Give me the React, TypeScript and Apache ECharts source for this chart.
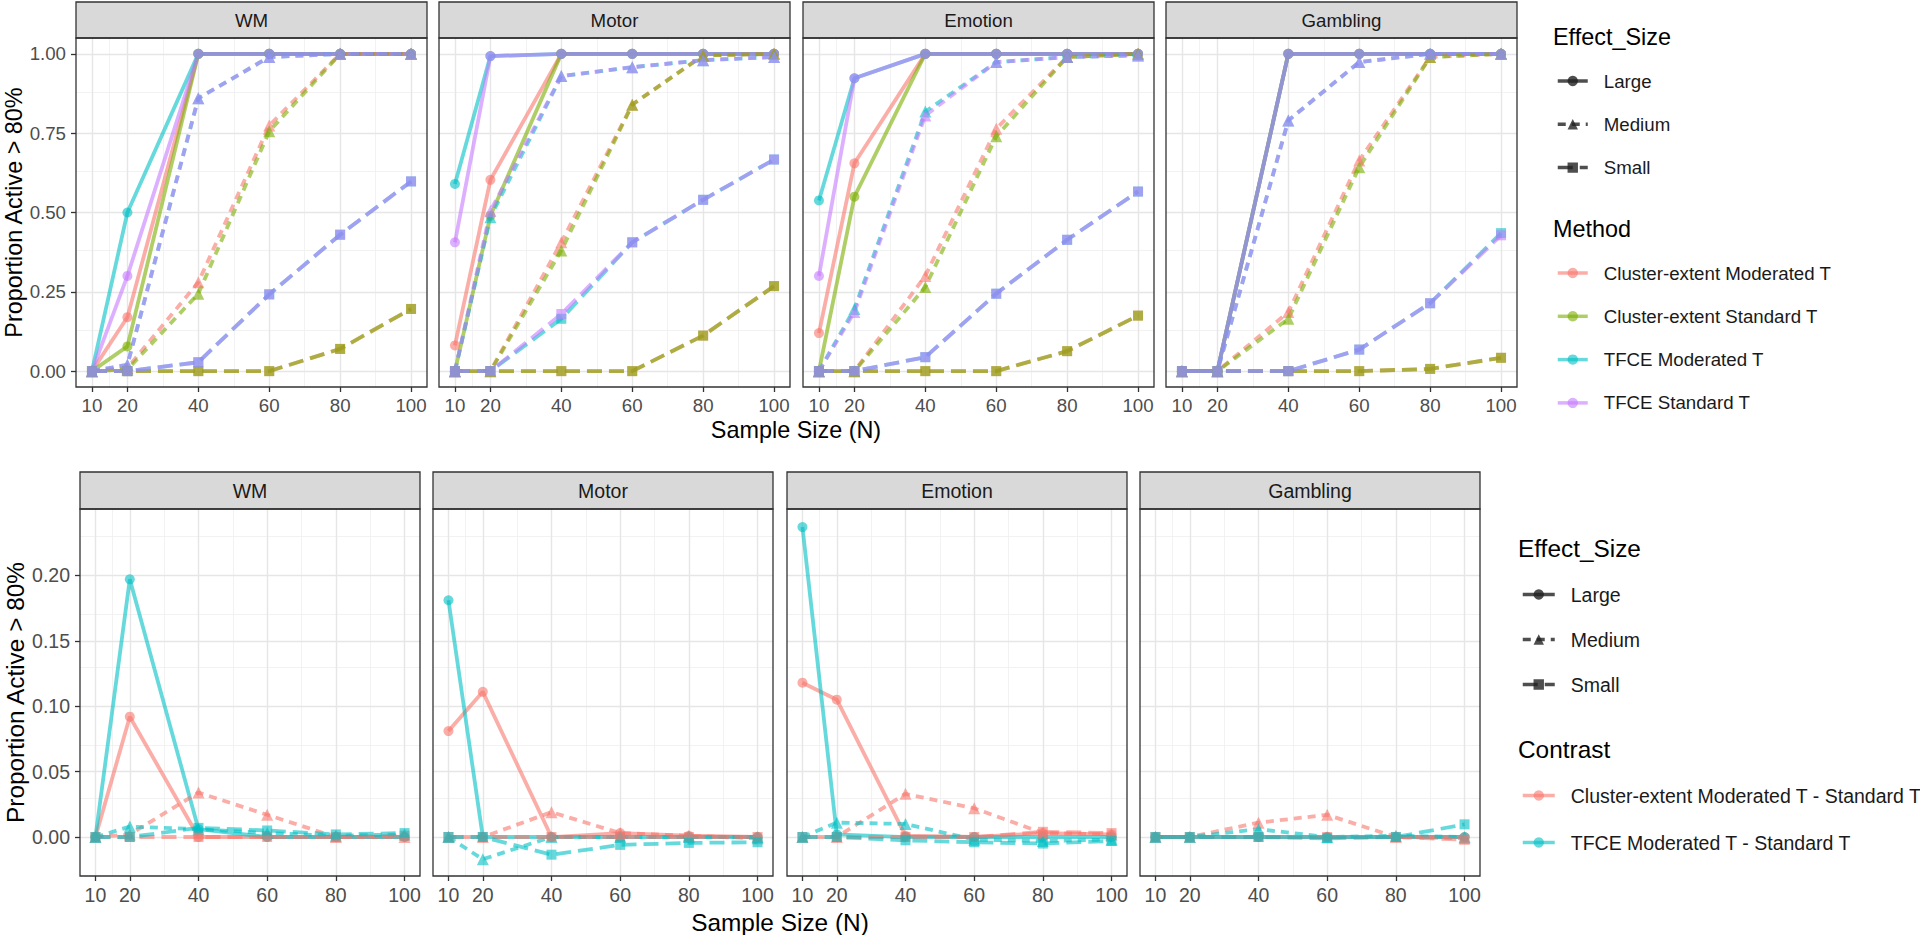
import React, { useEffect, useRef } from 'react';
import * as echarts from 'echarts';

// ---------- categories / ticks ----------
const sampleSizes = [10, 20, 40, 60, 80, 100];
const tasks = ['WM', 'Motor', 'Emotion', 'Gambling'];
const effectSizes = ['Large', 'Medium', 'Small'];
const methods = ['Cluster-extent Moderated T', 'Cluster-extent Standard T', 'TFCE Moderated T', 'TFCE Standard T'];
const contrasts = ['Cluster-extent Moderated T - Standard T', 'TFCE Moderated T - Standard T'];
const powerYTicks = [0, 0.25, 0.5, 0.75, 1];
const diffYTicks = [0, 0.05, 0.1, 0.15, 0.2];
const xMinorLines = [15, 30, 50, 70, 90];
const powerYMinor = [0.125, 0.375, 0.625, 0.875];
const diffYMinor = [-0.025, 0.025, 0.075, 0.125, 0.175, 0.225];

// ---------- top row: proportion active > 80% (rows = methods) ----------
const wmLarge = [
  [0, 0.17, 1, 1, 1, 1],
  [0, 0.078, 1, 1, 1, 1],
  [0, 0.5, 1, 1, 1, 1],
  [0, 0.3, 1, 1, 1, 1],
];
const wmMedium = [
  [0, 0.01, 0.28, 0.774, 1, 1],
  [0, 0.005, 0.244, 0.756, 1, 1],
  [0, 0.02, 0.86, 0.99, 1, 1],
  [0, 0.02, 0.86, 0.99, 1, 1],
];
const wmSmall = [
  [0, 0, 0, 0, 0.07, 0.196],
  [0, 0, 0, 0, 0.07, 0.196],
  [0, 0, 0.028, 0.242, 0.43, 0.598],
  [0, 0, 0.028, 0.242, 0.43, 0.598],
];
const motorLarge = [
  [0.081, 0.603, 1, 1, 1, 1],
  [0, 0.49, 1, 1, 1, 1],
  [0.59, 0.993, 1, 1, 1, 1],
  [0.406, 0.993, 1, 1, 1, 1],
];
const motorMedium = [
  [0, 0, 0.406, 0.84, 0.995, 1],
  [0, 0, 0.38, 0.84, 0.995, 1],
  [0, 0.485, 0.93, 0.958, 0.98, 0.99],
  [0, 0.505, 0.93, 0.958, 0.98, 0.99],
];
const motorSmall = [
  [0, 0, 0, 0, 0.112, 0.268],
  [0, 0, 0, 0, 0.112, 0.268],
  [0, 0, 0.165, 0.406, 0.54, 0.667],
  [0, 0, 0.18, 0.406, 0.54, 0.667],
];
const emotionLarge = [
  [0.12, 0.655, 1, 1, 1, 1],
  [0, 0.55, 1, 1, 1, 1],
  [0.538, 0.923, 1, 1, 1, 1],
  [0.3, 0.923, 1, 1, 1, 1],
];
const emotionMedium = [
  [0, 0, 0.3, 0.764, 0.99, 1],
  [0, 0, 0.265, 0.74, 0.99, 1],
  [0, 0.196, 0.818, 0.974, 0.99, 0.995],
  [0, 0.186, 0.806, 0.974, 0.99, 0.995],
];
const emotionSmall = [
  [0, 0, 0, 0, 0.063, 0.175],
  [0, 0, 0, 0, 0.063, 0.175],
  [0, 0, 0.044, 0.244, 0.414, 0.566],
  [0, 0, 0.044, 0.244, 0.414, 0.566],
];
const gamblingLarge = [
  [0, 0, 1, 1, 1, 1],
  [0, 0, 1, 1, 1, 1],
  [0, 0, 1, 1, 1, 1],
  [0, 0, 1, 1, 1, 1],
];
const gamblingMedium = [
  [0, 0, 0.186, 0.664, 0.99, 1],
  [0, 0, 0.165, 0.643, 0.99, 1],
  [0, 0, 0.79, 0.974, 1, 1],
  [0, 0, 0.79, 0.974, 1, 1],
];
const gamblingSmall = [
  [0, 0, 0, 0, 0.007, 0.042],
  [0, 0, 0, 0, 0.007, 0.042],
  [0, 0, 0, 0.068, 0.214, 0.435],
  [0, 0, 0, 0.068, 0.214, 0.428],
];

// ---------- bottom row: differences (rows = contrasts) ----------
const wmLargeDiff = [
  [0, 0.092, 0, 0, 0, 0],
  [0, 0.197, 0.006, 0, 0, 0],
];
const wmMediumDiff = [
  [0, 0.002, 0.034, 0.017, 0, 0],
  [0, 0.008, 0.006, 0.003, 0.001, 0.002],
];
const wmSmallDiff = [
  [0, 0, 0, 0, 0, 0.001],
  [0, 0, 0.007, 0.005, 0.002, 0.003],
];
const motorLargeDiff = [
  [0.081, 0.111, 0, 0.003, 0.001, 0],
  [0.181, 0, 0, 0, 0, 0],
];
const motorMediumDiff = [
  [0, 0, 0.019, 0.003, 0.001, -0.001],
  [0, -0.017, 0, 0, 0, 0],
];
const motorSmallDiff = [
  [0, 0, 0, 0, 0, 0],
  [0, 0, -0.0135, -0.006, -0.0045, -0.004],
];
const emotionLargeDiff = [
  [0.118, 0.105, 0.001, 0, 0.003, 0.002],
  [0.237, 0.002, 0, 0, 0, 0],
];
const emotionMediumDiff = [
  [0, 0, 0.033, 0.022, 0.003, 0.002],
  [0, 0.011, 0.01, -0.002, -0.003, -0.002],
];
const emotionSmallDiff = [
  [0, 0, 0, 0, 0.004, 0.003],
  [0, 0, -0.0025, -0.004, -0.005, -0.003],
];
const gamblingLargeDiff = [
  [0, 0, 0, 0, 0, 0],
  [0, 0, 0, 0, 0, 0],
];
const gamblingMediumDiff = [
  [0, 0, 0.011, 0.017, 0, -0.001],
  [0, 0, 0.006, 0, 0.001, 0],
];
const gamblingSmallDiff = [
  [0, 0, 0, 0, 0, -0.002],
  [0, 0, 0, -0.001, 0, 0.0097],
];

const powerByTask = [
  [wmLarge, wmMedium, wmSmall],
  [motorLarge, motorMedium, motorSmall],
  [emotionLarge, emotionMedium, emotionSmall],
  [gamblingLarge, gamblingMedium, gamblingSmall],
];
const diffByTask = [
  [wmLargeDiff, wmMediumDiff, wmSmallDiff],
  [motorLargeDiff, motorMediumDiff, motorSmallDiff],
  [emotionLargeDiff, emotionMediumDiff, emotionSmallDiff],
  [gamblingLargeDiff, gamblingMediumDiff, gamblingSmallDiff],
];

// ---------- styling ----------
const FONT = 'Liberation Sans';
const methodColors = ['#F8766D', '#7CAE00', '#00BFC4', '#C77CFF'];
const contrastColors = ['#F8766D', '#00BFC4'];
const effectLineTypes: any[] = ['solid', [8, 6], [15, 7]];
const effectSymbols = ['circle', 'triangle', 'rect'];
const effectSymbolSizes = [10, 12, 10];
const ALPHA = 0.6;

const rows = [
  { lefts: [76, 439, 803, 1166], width: 351, top: 38, height: 349, stripTop: 2, stripH: 36,
    yMin: -0.05, yMax: 1.05, yTicks: powerYTicks, yMinor: powerYMinor, fs: 18.7, tfs: 23.4,
    xTitleX: 796, xTitleY: 430, yTitleX: 14 },
  { lefts: [80, 433, 787, 1140], width: 340, top: 509, height: 367, stripTop: 472, stripH: 37,
    yMin: -0.0298, yMax: 0.2508, yTicks: diffYTicks, yMinor: diffYMinor, fs: 19.5, tfs: 24.4,
    xTitleX: 780, xTitleY: 922, yTitleX: 15 },
];

function buildOption() {
  const grid: any[] = [];
  const xAxis: any[] = [];
  const yAxis: any[] = [];
  const series: any[] = [];
  const graphic: any[] = [];

  rows.forEach((row, r) => {
    tasks.forEach((task, p) => {
      const gi = r * 4 + p;
      const left = row.lefts[p];
      grid.push({ left, top: row.top, width: row.width, height: row.height, containLabel: false, outerBoundsMode: 'none' });
      xAxis.push({
        type: 'value', gridIndex: gi, min: 5.5, max: 104.5,
        axisLine: { show: false, onZero: false },
        axisTick: { show: true, customValues: sampleSizes, length: 5, lineStyle: { color: '#333333', width: 1.3 } },
        axisLabel: { customValues: sampleSizes, color: '#4D4D4D', fontSize: row.fs, fontFamily: FONT, margin: 9 },
        splitLine: { show: false },
      });
      yAxis.push({
        type: 'value', gridIndex: gi, min: row.yMin, max: row.yMax,
        axisLine: { show: false, onZero: false },
        axisTick: { show: p === 0, customValues: row.yTicks, length: 5, lineStyle: { color: '#333333', width: 1.3 } },
        axisLabel: {
          show: p === 0, customValues: row.yTicks, color: '#4D4D4D', fontSize: row.fs, fontFamily: FONT, margin: 10,
          formatter: (v: number) => v.toFixed(2),
        },
        splitLine: { show: false },
      });

      // background grid lines through the axes' scales
      const major = { color: '#E6E6E6', width: 1.4, type: 'solid' };
      const minor = { color: '#EFEFEF', width: 0.8, type: 'solid' };
      const mlData: any[] = [];
      xMinorLines.forEach((v) => mlData.push({ xAxis: v, lineStyle: minor }));
      row.yMinor.forEach((v) => mlData.push({ yAxis: v, lineStyle: minor }));
      sampleSizes.forEach((v) => mlData.push({ xAxis: v, lineStyle: major }));
      row.yTicks.forEach((v) => mlData.push({ yAxis: v, lineStyle: major }));
      series.push({
        type: 'line', name: '__grid' + gi, xAxisIndex: gi, yAxisIndex: gi, z: 1,
        data: [[10, 0]], symbol: 'none', lineStyle: { opacity: 0 }, silent: true, tooltip: { show: false },
        markLine: {
          silent: true, z: 1, symbol: ['none', 'none'], label: { show: false }, emphasis: { disabled: true },
          animation: false, data: mlData,
        },
      });

      const blocks = r === 0 ? powerByTask[p] : diffByTask[p];
      const names = r === 0 ? methods : contrasts;
      const colors = r === 0 ? methodColors : contrastColors;
      effectSizes.forEach((eff, e) => {
        blocks[e].forEach((vals: number[], m: number) => {
          series.push({
            type: 'line', name: names[m], xAxisIndex: gi, yAxisIndex: gi, z: 3,
            data: sampleSizes.map((x, k) => [x, vals[k]]),
            symbol: effectSymbols[e], symbolSize: effectSymbolSizes[e],
            lineStyle: { color: colors[m], width: 3.8, type: effectLineTypes[e], opacity: ALPHA },
            itemStyle: { color: colors[m], opacity: ALPHA },
            emphasis: { disabled: true },
            clip: true,
          });
        });
      });

      // strip
      graphic.push({
        type: 'rect', z: 50,
        shape: { x: left, y: row.stripTop, width: row.width, height: row.stripH },
        style: { fill: '#D9D9D9', stroke: '#333333', lineWidth: 1.3 },
      });
      graphic.push({
        type: 'text', z: 51, x: left + row.width / 2, y: row.stripTop + row.stripH / 2,
        style: { text: task, fontSize: row.fs, fontFamily: FONT, fill: '#1A1A1A', align: 'center', verticalAlign: 'middle' },
      });
      // panel border
      graphic.push({
        type: 'rect', z: 50,
        shape: { x: left, y: row.top, width: row.width, height: row.height },
        style: { fill: 'none', stroke: '#333333', lineWidth: 1.3 },
      });
    });

    // axis titles
    graphic.push({
      type: 'text', z: 51, x: row.xTitleX, y: row.xTitleY,
      style: { text: 'Sample Size (N)', fontSize: row.tfs, fontFamily: FONT, fill: '#000', align: 'center', verticalAlign: 'middle' },
    });
    graphic.push({
      type: 'text', z: 51, x: row.yTitleX, y: row.top + row.height / 2, rotation: Math.PI / 2,
      style: { text: 'Proportion Active > 80%', fontSize: row.tfs, fontFamily: FONT, fill: '#000', align: 'center', verticalAlign: 'middle' },
    });
  });

  // dummy series for the Effect_Size legend
  effectSizes.forEach((eff, e) => {
    series.push({
      type: 'line', name: eff, xAxisIndex: 0, yAxisIndex: 0, data: [],
      symbol: effectSymbols[e], symbolSize: effectSymbolSizes[e],
      lineStyle: { color: '#222222', width: 3.8, type: effectLineTypes[e], opacity: 0.8 },
      itemStyle: { color: '#222222', opacity: 0.8 },
    });
  });

  // legend titles
  const legendTitles = [
    { text: 'Effect_Size', x: 1553, y: 37, fs: 23.4 },
    { text: 'Method', x: 1553, y: 229, fs: 23.4 },
    { text: 'Effect_Size', x: 1518, y: 548, fs: 24.4 },
    { text: 'Contrast', x: 1518, y: 749, fs: 24.4 },
  ];
  legendTitles.forEach((t) => {
    graphic.push({
      type: 'text', z: 51, x: t.x, y: t.y,
      style: { text: t.text, fontSize: t.fs, fontFamily: FONT, fill: '#000', align: 'left', verticalAlign: 'middle' },
    });
  });

  const legendBase = (left: number, top: number, gap: number, width: number, fs: number, data: string[]) => ({
    show: true, orient: 'vertical', left, top, padding: 0, itemGap: gap, itemWidth: width, itemHeight: 13,
    selectedMode: false, data,
    lineStyle: { width: 3.5 },
    textStyle: { fontSize: fs, fontFamily: FONT, color: '#1A1A1A', lineHeight: 13, padding: [0, 0, 0, 11] },
  });

  return {
    animation: false,
    backgroundColor: '#FFFFFF',
    grid, xAxis, yAxis, series, graphic,
    legend: [
      legendBase(1556, 71.5, 24.3, 30, 18.7, effectSizes),
      legendBase(1556, 263.5, 24.3, 30, 18.7, methods),
      legendBase(1521, 584.5, 25, 32, 19.5, effectSizes),
      legendBase(1521, 785.5, 27, 32, 19.5, contrasts),
    ],
  };
}

export default function App() {
  const ref = useRef<HTMLDivElement>(null);
  useEffect(() => {
    if (!ref.current) return;
    const chart = echarts.init(ref.current, null, { renderer: 'svg' });
    chart.setOption(buildOption() as any);
    return () => chart.dispose();
  }, []);
  return (
    <div
      ref={ref}
      style={{ position: 'fixed', left: 0, top: 0, width: 1920, height: 935, background: '#FFFFFF' }}
    />
  );
}
